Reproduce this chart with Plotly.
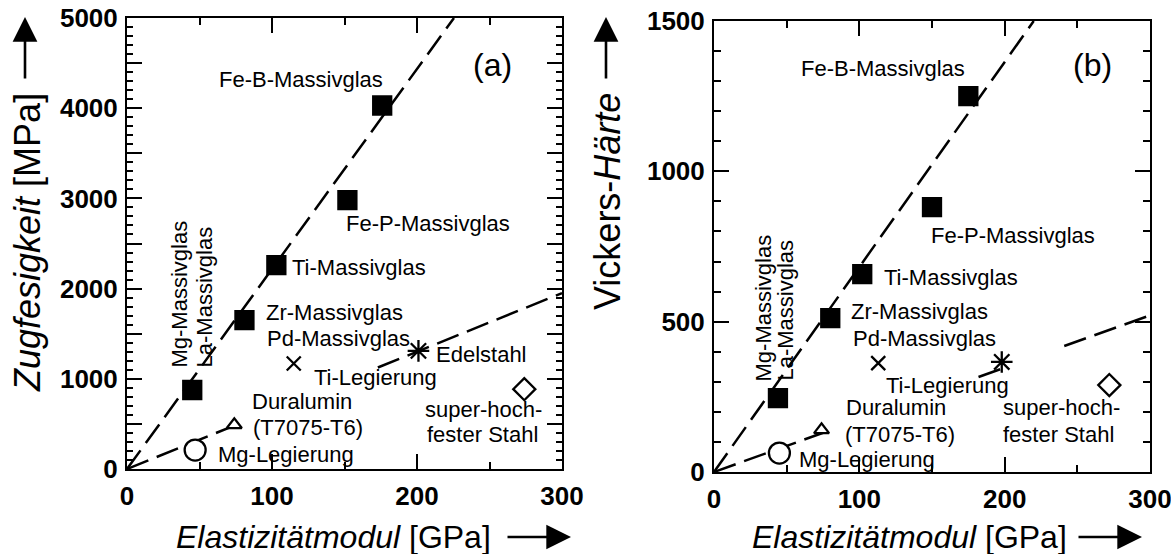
import plotly.graph_objects as go

W, H = 1171, 554
FONT = "Liberation Sans, Arial, sans-serif"

# ---------------- data: (a) tensile strength vs. Young's modulus ----------------
names = ["Mg/La-Massivglas", "Zr/Pd-Massivglas", "Ti-Massivglas", "Fe-P-Massivglas",
         "Fe-B-Massivglas", "Ti-Legierung", "Edelstahl", "super-hochfester Stahl",
         "Duralumin", "Mg-Legierung"]
a_modulus = [45, 81, 103, 152, 176, 115, 201, 274, 74, 47]             # GPa
a_strength = [876, 1650, 2260, 2980, 4030, 1170, 1310, 885, 490, 210]   # MPa

# ---------------- data: (b) Vickers hardness vs. Young's modulus ----------------
b_modulus = [44, 80, 102, 150, 175, 113, 198, 272, 74, 45]              # GPa
b_hardness = [246, 512, 658, 881, 1250, 362, 366, 289, 140, 63]         # HV

# trend lines (broken where labels sit on them)
a_glass_line_x = [0, 225.5]
a_glass_line_y = [0, 5000]
a_cryst_line_x = [0, 80, None, 173, 300]
a_cryst_line_y = [0, 520, None, 1125, 1950]

b_glass_line_x = [0, 220]
b_glass_line_y = [0, 1500]
b_cryst_line_x = [0, 80, None, 182, 201, None, 241, 300]
b_cryst_line_y = [0, 139, None, 316, 349, None, 419, 521]

# marker style per material (same order as the data arrays)
symbols = ["square", "square", "square", "square", "square",
           "x-thin-open", "asterisk-open", "diamond", "triangle-up", "circle"]
sizes = [18, 18, 18, 18, 18, 14, 18, 17, 13, 21]
fills = ["black"] * 7 + ["white"] * 3

x_ticks = [0, 100, 200, 300]
a_y_ticks = [0, 500, 1000, 1500, 2000, 2500, 3000, 3500, 4000, 4500, 5000]
a_y_text = ["0", "", "1000", "", "2000", "", "3000", "", "4000", "", "5000"]
b_y_ticks = [0, 500, 1000, 1500]


def px_x(p):
    return p / W


def px_y(p):
    return 1 - p / H


fig = go.Figure()

dash = "23px,9px"
for xs, ys, xa, ya in [(a_glass_line_x, a_glass_line_y, "x", "y"),
                       (a_cryst_line_x, a_cryst_line_y, "x", "y"),
                       (b_glass_line_x, b_glass_line_y, "x2", "y2"),
                       (b_cryst_line_x, b_cryst_line_y, "x2", "y2")]:
    fig.add_trace(go.Scatter(x=xs, y=ys, xaxis=xa, yaxis=ya, mode="lines",
                             line=dict(color="black", width=2.5, dash=dash),
                             connectgaps=False, hoverinfo="skip", showlegend=False))

for xs, ys, xa, ya in [(a_modulus, a_strength, "x", "y"),
                       (b_modulus, b_hardness, "x2", "y2")]:
    fig.add_trace(go.Scatter(
        x=xs, y=ys, xaxis=xa, yaxis=ya, mode="markers", text=names,
        marker=dict(symbol=symbols, size=sizes, color=fills, opacity=1,
                    line=dict(color="black", width=2.3)),
        showlegend=False))

ann = []


def label(text, x, y, ref, size=22, anchor="center", angle=0, yanchor="middle"):
    ann.append(dict(text=text, x=x, y=y, xref="x" if ref == 1 else "x2",
                    yref="y" if ref == 1 else "y2", showarrow=False,
                    xanchor=anchor, yanchor=yanchor, textangle=angle,
                    font=dict(family=FONT, size=size, color="black"), align="left"))


# panel (a) labels
label("Fe-B-Massivglas", 120.3, 4313, 1)
label("Fe-P-Massivglas", 207.9, 2727, 1)
label("Ti-Massivglas", 159.7, 2239, 1)
label("Zr-Massivglas", 143.4, 1740, 1)
label("Pd-Massivglas", 145.9, 1452, 1)
label("Edelstahl", 244.8, 1264, 1)
label("Ti-Legierung", 171.4, 1009, 1)
label("Duralumin", 121, 743, 1)
label("(T7075-T6)", 124.8, 455, 1)
label("Mg-Legierung", 109.7, 166, 1)
label("super-hoch-", 245.9, 665, 1)
label("fester Stahl", 245.2, 377, 1)
label("Mg-Massivglas", 35.9, 1098, 1, angle=-90, yanchor="bottom")
label("La-Massivglas", 53.1, 1098, 1, angle=-90, yanchor="bottom")

# panel (b) labels
label("Fe-B-Massivglas", 116.6, 1343, 2)
label("Fe-P-Massivglas", 205.7, 788, 2)
label("Ti-Massivglas", 163.1, 648, 2)
label("Zr-Massivglas", 141.7, 533, 2)
label("Pd-Massivglas", 144.5, 445, 2)
label("Ti-Legierung", 161, 289, 2)
label("Duralumin", 125.2, 213, 2)
label("(T7075-T6)", 128, 126, 2)
label("Mg-Legierung", 105.3, 40, 2)
label("super-hoch-", 238.8, 213, 2)
label("fester Stahl", 236.7, 126, 2)
label("Mg-Massivglas", 34.4, 296, 2, angle=-90, yanchor="bottom")
label("La-Massivglas", 48.9, 296, 2, angle=-90, yanchor="bottom")


def paper_text(text, x, y, size, angle=0):
    ann.append(dict(text=text, x=px_x(x), y=px_y(y), xref="paper", yref="paper",
                    showarrow=False, xanchor="center", yanchor="middle",
                    textangle=angle, font=dict(family=FONT, size=size, color="black")))


def paper_arrow(x0, y0, x1, y1):
    # tip at (x1, y1); tail offset in pixels
    ann.append(dict(text="", x=px_x(x1), y=px_y(y1), xref="paper", yref="paper",
                    ax=x0 - x1, ay=y0 - y1, axref="pixel", ayref="pixel",
                    showarrow=True, arrowhead=2, arrowsize=1.9, arrowwidth=2.6,
                    arrowcolor="black"))


paper_text("(a)", 492, 65, 32)
paper_text("(b)", 1092, 65, 32)
paper_text("<i>Zugfesigkeit</i> [MPa]", 27, 243, 36, angle=-90)
paper_text("Vickers-<i>Härte</i>", 607, 202, 36, angle=-90)
paper_text("<i>Elastizitätmodul</i> [GPa]", 333, 537, 32)
paper_text("<i>Elastizitätmodul</i> [GPa]", 909, 537, 32)
paper_arrow(25, 80, 25, 17)
paper_arrow(606, 80, 606, 17)
paper_arrow(506, 537, 571, 537)
paper_arrow(1077, 537, 1142, 537)

tickfont = dict(family=FONT, size=26, color="black", weight="bold")
common_x = dict(range=[0, 300], tickvals=x_ticks, showline=True, linecolor="black",
                linewidth=2, mirror="ticks", ticks="inside", ticklen=15, tickwidth=2,
                tickcolor="black", tickfont=tickfont, showgrid=False, zeroline=False,
                ticklabelstandoff=3, automargin=False, ticklabeloverflow="allow",
                minor=dict(dtick=50, tick0=0, ticks="inside", ticklen=7, tickwidth=2,
                           tickcolor="black", showgrid=False))
common_y = dict(showline=True, linecolor="black", linewidth=2, mirror="ticks",
                ticks="inside", ticklen=15, tickwidth=2, tickcolor="black",
                tickfont=tickfont, showgrid=False, zeroline=False,
                ticklabelstandoff=2, automargin=False, ticklabeloverflow="allow")

fig.update_layout(
    width=W, height=H, margin=dict(l=0, r=0, t=0, b=0, pad=0, autoexpand=False),
    paper_bgcolor="white", plot_bgcolor="white", showlegend=False,
    xaxis=dict(domain=[px_x(127), px_x(562)], anchor="y", **common_x),
    yaxis=dict(domain=[px_y(469), px_y(18)], anchor="x", range=[0, 5000],
               tickvals=a_y_ticks, ticktext=a_y_text,
               minor=dict(dtick=100, tick0=0, ticks="inside", ticklen=6, tickwidth=1.5,
                          tickcolor="black", showgrid=False),
               **common_y),
    xaxis2=dict(domain=[px_x(714), px_x(1150)], anchor="y2", **common_x),
    yaxis2=dict(domain=[px_y(472), px_y(21)], anchor="x2", range=[0, 1500],
                tickvals=b_y_ticks,
                minor=dict(dtick=100, tick0=0, ticks="inside", ticklen=7, tickwidth=2,
                           tickcolor="black", showgrid=False),
                **common_y),
    annotations=ann,
)

fig.write_html("out.html")
